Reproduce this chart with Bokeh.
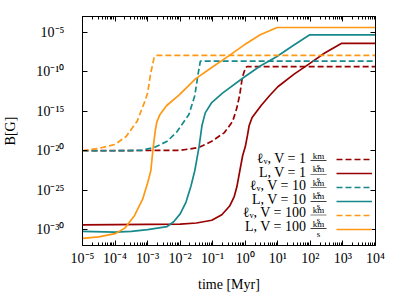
import numpy as np
from bokeh.plotting import figure
from bokeh.models import (LogAxis, FixedTicker, CustomJSTickFormatter, Legend, LegendItem,
                          Label, BoxAnnotation, Range1d)
from bokeh.embed import file_html
from bokeh.resources import INLINE

# ---- data (log10 of time [Myr], log10 of B [G]) ----
lt_lnu_1 = [-5, -2.0, -1.43, -1.03, -0.64, -0.39, -0.26, -0.17, -0.09, 0.01, 0.06, 4]
lb_lnu_1 = [-20, -19.95, -19.6, -18.8, -17.7, -16.3, -14.6, -12.9, -10.7, -9.46, -9.34, -9.34]

lt_L_1 = [-5, -2.0, -1.5, -1.03, -0.72, -0.48, -0.34, -0.26, -0.17, -0.08, 0.0, 0.07,
          0.12, 0.21, 0.5, 0.75, 1.0, 1.5, 1.94, 2.44, 2.95, 4]
lb_L_1 = [-29.4, -29.3, -29.15, -28.8, -28.1, -27.0, -25.8, -24.6, -22.6, -20.6, -19.5, -18.0,
          -16.8, -15.8, -14.2, -13.0, -11.9, -10.3, -9.06, -7.63, -6.41, -6.41]

lt_lnu_10 = [-5, -4, -3.2, -2.8, -2.4, -2.1, -2.0, -1.73, -1.55, -1.45, -1.38, 4]
lb_lnu_10 = [-20, -20, -19.95, -19.6, -18.8, -17.6, -17.0, -15.4, -13.0, -10.3, -8.66, -8.66]

lt_L_10 = [-5, -4, -3.5, -3.0, -2.4, -2.2, -2.0, -1.82, -1.67, -1.55, -1.42, -1.33, -1.23,
           -1.03, -0.7, -0.04, 0.46, 0.96, 1.45, 1.98, 4]
lb_L_10 = [-30.2, -30.3, -30.2, -30.0, -29.6, -29.0, -28.0, -26.5, -24.5, -22.5, -19.5, -16.8,
           -15.2, -13.9, -12.7, -10.7, -9.27, -8.1, -6.74, -5.32, -5.32]

lt_lnu_100 = [-5, -4.5, -4.0, -3.66, -3.32, -3.1, -3.0, -2.91, -2.8, -2.74, 4]
lb_lnu_100 = [-20, -19.7, -19.2, -18.2, -16.25, -13.9, -12.7, -10.3, -8.2, -7.93, -7.93]

lt_L_100 = [-5, -4.5, -4.0, -3.7, -3.4, -3.15, -3.0, -2.9, -2.84, -2.77, -2.72, -2.62, -2.42,
            -2.02, -1.53, -1.03, -0.53, -0.04, 0.46, 0.98, 4]
lb_L_100 = [-31.1, -30.9, -30.5, -29.8, -28.2, -26.1, -24.1, -22.5, -20.0, -17.6, -16.4, -15.4,
            -14.3, -12.9, -10.9, -9.46, -8.05, -6.62, -5.32, -4.39, -4.39]

x_tick_exp = [-5, -4, -3, -2, -1, 0, 1, 2, 3, 4]
y_tick_exp = [-30, -25, -20, -15, -10, -5]

legend_text = ["\u2113\u1d65, V = 1", "L, V = 1", "\u2113\u1d65, V = 10",
               "L, V = 10", "\u2113\u1d65, V = 100", "L, V = 100"]

RED = "#990000"
TEAL = "#17898c"
ORANGE = "#ff9812"
FONT = "Liberation Serif"

p = figure(width=391, height=294, x_axis_type="log", y_axis_type="log",
           x_range=Range1d(1e-5, 1e4), y_range=Range1d(1e-32, 1e-3),
           output_backend="svg", toolbar_location=None,
           min_border_left=73, min_border_right=16, min_border_top=16, min_border_bottom=40)
p.xgrid.visible = False
p.ygrid.visible = False
p.outline_line_color = "black"
p.outline_line_width = 1
p.background_fill_color = "white"

def tt(a):
    return 10.0 ** np.array(a, dtype=float)

series = [
    (lt_lnu_1, lb_lnu_1, RED, "dashed"),
    (lt_L_1, lb_L_1, RED, "solid"),
    (lt_lnu_10, lb_lnu_10, TEAL, "dashed"),
    (lt_L_10, lb_L_10, TEAL, "solid"),
    (lt_lnu_100, lb_lnu_100, ORANGE, "dashed"),
    (lt_L_100, lb_L_100, ORANGE, "solid"),
]
renderers = []
for lt, lb, col, sty in series:
    r = p.line(tt(lt), tt(lb), line_color=col, line_width=1.7,
               line_dash=("6 3" if sty == "dashed" else "solid"))
    renderers.append(r)

fmt_js = """
const e = Math.round(Math.log10(tick));
const m = {"-":"\\u207b","0":"\\u2070","1":"\\u00b9","2":"\\u00b2","3":"\\u00b3","4":"\\u2074",
           "5":"\\u2075","6":"\\u2076","7":"\\u2077","8":"\\u2078","9":"\\u2079"};
return "10" + String(e).split("").map(c => m[c]).join("");
"""
blank_js = "return '';"

x_major = [10.0 ** e for e in x_tick_exp]
x_minor = [m * 10.0 ** e for e in x_tick_exp[:-1] for m in range(2, 10)]
y_major = [10.0 ** e for e in y_tick_exp]

def style_axis(ax, ticker, labels, standoff):
    ax.ticker = ticker
    ax.formatter = CustomJSTickFormatter(code=fmt_js if labels else blank_js)
    ax.axis_line_color = "black"
    ax.major_tick_in = 5
    ax.major_tick_out = 0
    ax.minor_tick_in = 3
    ax.minor_tick_out = 0
    ax.major_tick_line_color = "black"
    ax.minor_tick_line_color = "black"
    ax.major_label_text_font = FONT
    ax.major_label_text_font_size = "14px"
    ax.major_label_text_color = "black"
    ax.major_label_standoff = standoff
    ax.axis_label_text_font = FONT
    ax.axis_label_text_font_size = "14px"
    ax.axis_label_text_font_style = "normal"
    ax.axis_label_text_color = "black"

xt = FixedTicker(ticks=x_major, minor_ticks=x_minor)
yt = FixedTicker(ticks=y_major, minor_ticks=[])

style_axis(p.xaxis[0], xt, True, 5)
p.xaxis[0].axis_label = "time [Myr]"
p.xaxis[0].axis_label_standoff = 8
style_axis(p.yaxis[0], yt, True, 18)
p.yaxis[0].axis_label = "B[G]"
p.yaxis[0].axis_label_standoff = 15

top = LogAxis()
style_axis(top, FixedTicker(ticks=x_major, minor_ticks=x_minor), False, 0)
p.add_layout(top, "above")
right = LogAxis()
style_axis(right, FixedTicker(ticks=y_major, minor_ticks=[]), False, 0)
p.add_layout(right, "right")

# legend swatches (glyphs on the right), texts as labels to their left
items = [LegendItem(label="", renderers=[r]) for r in renderers]
leg = Legend(items=items, location=(254, 9), glyph_width=36, glyph_height=14, spacing=0,
             padding=0, margin=0, label_width=0, label_standoff=0,
             label_text_font_size="6px", background_fill_alpha=0, border_line_alpha=0)
p.add_layout(leg)

row0 = 87.0  # frame-relative screen y of first row centre
dy = 13.6
for i, txt in enumerate(legend_text):
    yc = row0 - i * dy
    p.add_layout(Label(x=224, y=yc, x_units="screen", y_units="screen", text=txt,
                       text_align="right", text_baseline="middle", text_font=FONT,
                       text_font_size="14px", text_color="black"))
    p.add_layout(Label(x=236, y=yc + 3, x_units="screen", y_units="screen", text="km",
                       text_align="center", text_baseline="middle", text_font=FONT,
                       text_font_size="9px", text_color="black"))
    p.add_layout(Label(x=236, y=yc - 7, x_units="screen", y_units="screen", text="s",
                       text_align="center", text_baseline="middle", text_font=FONT,
                       text_font_size="9px", text_color="black"))
    p.add_layout(BoxAnnotation(left=228, right=244, bottom=yc - 2.4, top=yc - 1.8,
                               left_units="screen", right_units="screen",
                               bottom_units="screen", top_units="screen",
                               fill_color="black", fill_alpha=1, line_color=None))

open("out.html", "w").write(file_html(p, INLINE))
